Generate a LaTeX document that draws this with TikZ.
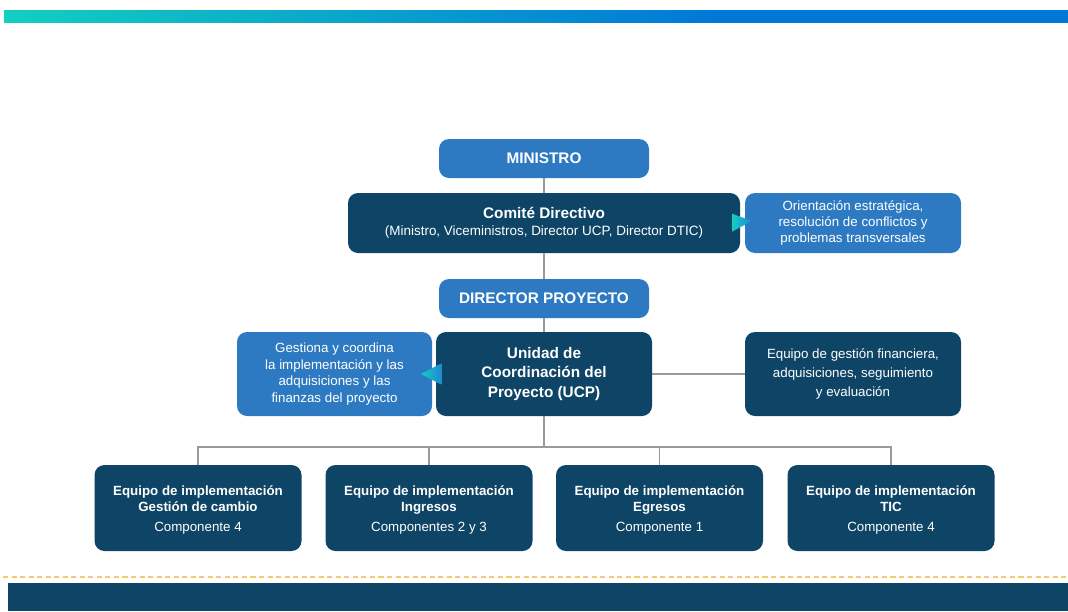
\documentclass[tikz,border=0pt]{standalone}
\usepackage{fontspec}
\setmainfont{Liberation Sans}
\definecolor{navy}{HTML}{0E4466}
\definecolor{midblue}{HTML}{2E7AC2}
\definecolor{teal}{HTML}{12CFC0}
\definecolor{topblue}{HTML}{0078D8}
\definecolor{linegray}{HTML}{9A9A9A}
\definecolor{gold}{HTML}{F0CB72}
\definecolor{tritealL}{HTML}{18CBC6}
\definecolor{triblueR}{HTML}{2088D2}
\pgfdeclarehorizontalshading{topbar}{100bp}{color(0bp)=(teal); color(25bp)=(teal); color(58.4bp)=(topblue); color(100bp)=(topblue)}
\begin{document}
\begin{tikzpicture}[x=0.75pt,y=-0.75pt,
  box/.style={rounded corners=7.5pt,inner sep=0pt,outer sep=0pt,align=center,text=white},
  dark/.style={box,fill=navy},
  light/.style={box,fill=midblue},
  head/.style={font=\fontsize{11.5}{14}\selectfont\bfseries},
  small/.style={font=\fontsize{10}{14.2}\selectfont},
  conn/.style={draw=linegray,line width=1.2pt},
  label/.style={align=center,text=white,inner sep=0pt},
]
\useasboundingbox (0,0) rectangle (1068,611);
% top gradient bar
\shade[shading=topbar] (4,10) rectangle (1068,22);
% bottom band
\draw[gold,line width=1.6pt,dash pattern=on 3.8pt off 2.6pt] (3,577) -- (1068,577);
\fill[navy] (8,583) rectangle (1068,611);

% nodes
\node[light,head,minimum width=157.5pt,minimum height=29.25pt] (min) at (544,158.5) {MINISTRO};
\node[dark,minimum width=294pt,minimum height=45pt] (com) at (544,223)
  {{\fontsize{11.5}{14}\selectfont\bfseries Comité Directivo}\\[1pt]
   {\fontsize{10.1}{12}\selectfont (Ministro, Viceministros, Director UCP, Director DTIC)}};
\node[light,font=\fontsize{10}{12}\selectfont,minimum width=162pt,minimum height=45pt] (ori) at (853,223)
  {Orientación estratégica,\\resolución de conflictos y\\problemas transversales};
\node[light,head,minimum width=157.5pt,minimum height=29.25pt] (dir) at (544,298.5) {DIRECTOR PROYECTO};
\node[dark,font=\fontsize{11.5}{14.5}\selectfont\bfseries,minimum width=162pt,minimum height=63pt] (ucp) at (544,374)
  {Unidad de\\Coordinación del\\Proyecto (UCP)};
\node[light,font=\fontsize{10}{12.4}\selectfont,minimum width=146.25pt,minimum height=63pt] (ges) at (334.5,374)
  {Gestiona y coordina\\la implementación y las\\adquisiciones y las\\finanzas del proyecto};
\node[dark,small,minimum width=162pt,minimum height=63pt] (fin) at (853,374)
  {Equipo de gestión financiera,\\adquisiciones, seguimiento\\y evaluación};

\foreach \n/\x/\t/\c in {b1/198/Gestión de cambio/Componente 4,
                         b2/429/Ingresos/Componentes 2 y 3,
                         b3/659.5/Egresos/Componente 1,
                         b4/891/TIC/Componente 4}{
  \node[dark,minimum width=155.25pt,minimum height=64.5pt] (\n) at (\x,508) {};
  \node[label] (\n t) at (\x,510)
    {{\fontsize{10}{12}\selectfont\bfseries Equipo de implementación}\\
     {\fontsize{10}{12}\selectfont\bfseries \t}\\[3.5pt]
     {\fontsize{10}{12}\selectfont \c}};
}

% connectors
\coordinate (bus) at (544,447);
\draw[conn] (min.south) -- (com.north);
\draw[conn] (com.south) -- (dir.north);
\draw[conn] (dir.south) -- (ucp.north);
\draw[conn] (ucp.east) -- (fin.west);
\draw[conn] (ucp.south) -- (bus);
\draw[conn] (b1.north) |- (bus);
\draw[conn] (b4.north) |- (bus);
\draw[conn] (b2.north) -- (b2.north |- bus);
\draw[conn] (b3.north) -- (b3.north |- bus);

% arrow triangles
\shade[left color=tritealL,right color=triblueR]
  ([xshift=-6pt,yshift=7pt]com.east) -- ([xshift=9pt,yshift=1.5pt]com.east) -- ([xshift=-6pt,yshift=-6.5pt]com.east) -- cycle;
\shade[left color=tritealL,right color=triblueR]
  ([xshift=4pt,yshift=8pt]ucp.west) -- ([xshift=-11.25pt,yshift=0pt]ucp.west) -- ([xshift=4pt,yshift=-8pt]ucp.west) -- cycle;
\end{tikzpicture}
\end{document}
